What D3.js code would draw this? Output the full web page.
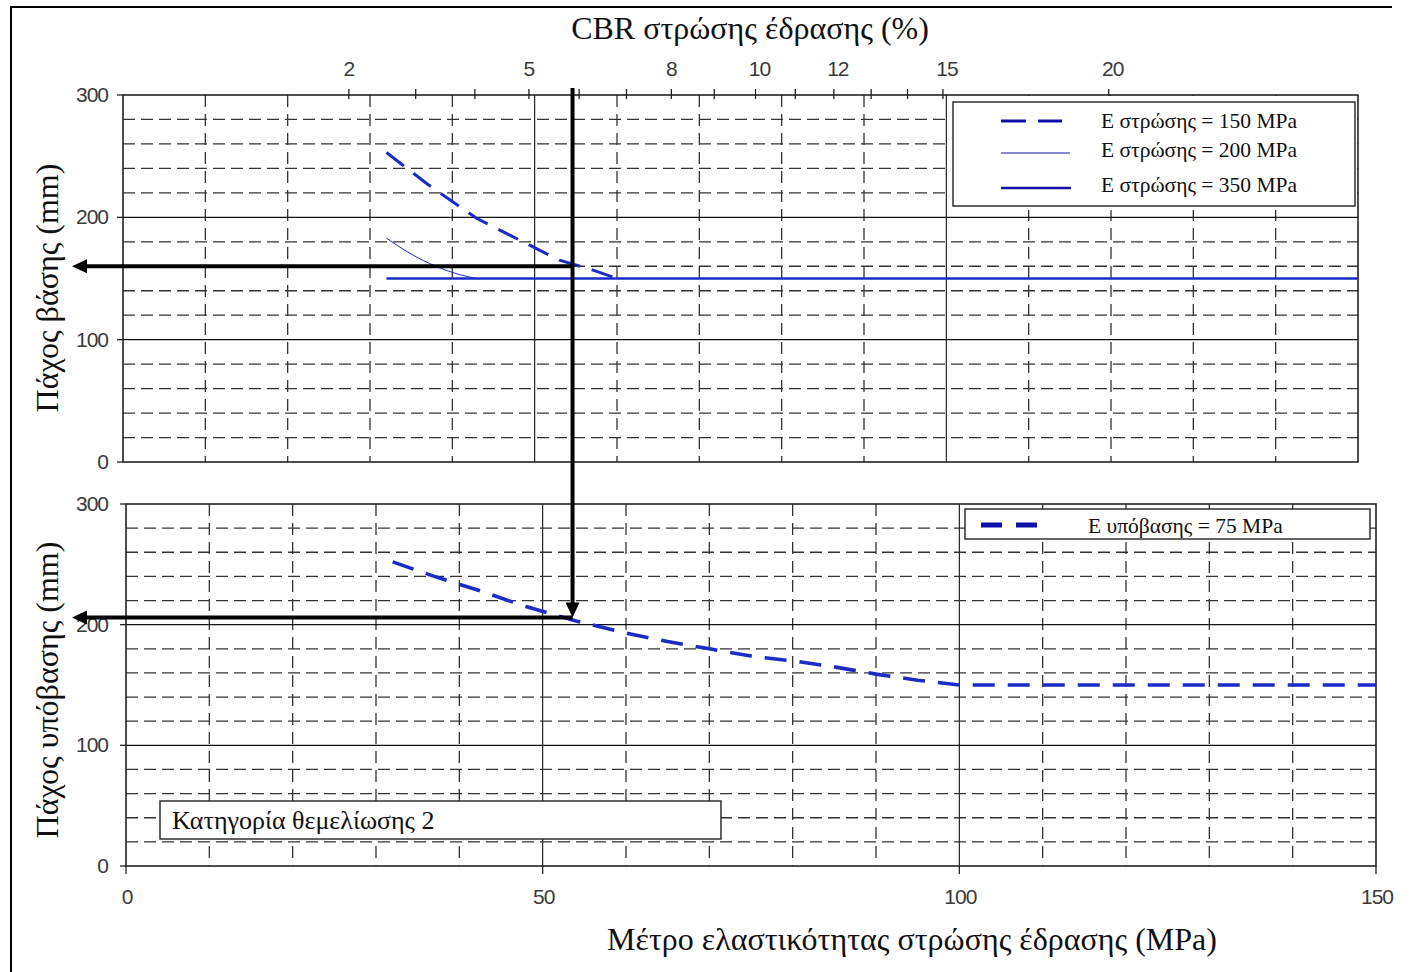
<!DOCTYPE html>
<html lang="el">
<head>
<meta charset="utf-8">
<title>Πάχος βάσης / υπόβασης</title>
<script src="https://cdn.jsdelivr.net/npm/d3@7"></script>
<style>
  body { margin: 0; background: #fff; }
  svg { display: block; }
  .tick-lbl { font-family: "Liberation Sans Narrow", "Liberation Sans", Arial, sans-serif; font-size: 21px; fill: #3a3a3a; letter-spacing: -1px; }
  .serif { font-family: "Liberation Serif", "Times New Roman", serif; fill: #111; }
</style>
</head>
<body>
<script>
// ---- data ----
// upper panel: base thickness (mm) vs subgrade modulus (MPa)
var base150E = [32, 37, 43, 48, 53, 57, 60];
var base150T = [253, 227, 199, 182, 165, 157, 150];
var base200E = [32, 35, 38, 41, 43];
var base200T = [183, 170, 160, 153, 150];
var base350E = [32, 150];
var base350T = [150, 150];

// lower panel: subbase thickness (mm), E subbase = 75 MPa
var subE = [32, 37, 42.5, 48, 54, 60, 65, 70, 75, 81, 85, 90, 95, 100, 150];
var subT = [252, 240, 228, 215, 203, 193, 186, 180, 174, 169, 165, 159, 154, 150, 150];

// CBR top axis (E = 17.6 * CBR^0.64)
var cbrTicks = [2, 3, 4, 5, 6, 7, 8, 9, 10, 11, 12, 13, 14, 15, 20];
var cbrLabels = [2, 5, 8, 10, 12, 15, 20];

var yTickLabels = [0, 100, 200, 300];
var xTickLabels = [0, 50, 100, 150];

var legendTop = ["Ε στρώσης = 150 MPa", "Ε στρώσης = 200 MPa", "Ε στρώσης = 350 MPa"];
var legendBot = ["Ε υπόβασης = 75 MPa"];

// reading shown by the arrows
var readE = 54.6, readBase = 160, readSub = 206;

var w = 1428, h = 972;
var blue = "#1b2bc6";

var svg = d3.select("body").append("svg")
  .attr("width", w).attr("height", h);

// outer frame
svg.append("path")
  .attr("d", "M11,972 L11,7 L1392,7")
  .attr("fill", "none").attr("stroke", "#000").attr("stroke-width", 2);

// scales
var xTop = d3.scaleLinear().domain([0, 150]).range([123, 1358]);
var yTop = d3.scaleLinear().domain([0, 300]).range([462, 95]);
var xBot = d3.scaleLinear().domain([0, 150]).range([126, 1376]);
var yBot = d3.scaleLinear().domain([0, 300]).range([866, 504]);

var cbrToE = function(c) { return 17.6 * Math.pow(c, 0.64); };

var drawGrid = function(g, x, y) {
  var xs = d3.range(10, 150, 10), ys = d3.range(20, 300, 20);
  g.selectAll(".vx").data(xs).enter().append("line")
    .attr("x1", function(d) { return x(d); }).attr("x2", function(d) { return x(d); })
    .attr("y1", y(300)).attr("y2", y(0))
    .attr("stroke", function(d) { return d % 50 ? "#333" : "#111"; })
    .attr("stroke-width", function(d) { return d % 50 ? 1.3 : 1.1; })
    .attr("stroke-dasharray", function(d) { return d % 50 ? "12,7" : null; });
  g.selectAll(".hy").data(ys).enter().append("line")
    .attr("x1", x(0)).attr("x2", x(150))
    .attr("y1", function(d) { return y(d); }).attr("y2", function(d) { return y(d); })
    .attr("stroke", function(d) { return d % 100 ? "#333" : "#111"; })
    .attr("stroke-width", function(d) { return d % 100 ? 1.3 : 1.1; })
    .attr("stroke-dasharray", function(d) { return d % 100 ? "12,6" : null; });
  g.append("rect")
    .attr("x", x(0)).attr("y", y(300))
    .attr("width", x(150) - x(0)).attr("height", y(0) - y(300))
    .attr("fill", "none").attr("stroke", "#222").attr("stroke-width", 1.6);
  // y ticks + labels
  g.selectAll(".yt").data(yTickLabels).enter().append("line")
    .attr("x1", x(0) - 6).attr("x2", x(0))
    .attr("y1", function(d) { return y(d); }).attr("y2", function(d) { return y(d); })
    .attr("stroke", "#222").attr("stroke-width", 1.3);
  g.selectAll(".yl").data(yTickLabels).enter().append("text")
    .attr("class", "tick-lbl")
    .attr("x", 108).attr("y", function(d) { return y(d) + 7; })
    .attr("text-anchor", "end")
    .text(function(d) { return d; });
};

var line = function(x, y) {
  return d3.line().x(function(d) { return x(d[0]); }).y(function(d) { return y(d[1]); });
};

// ---- upper panel ----
var gTop = svg.append("g");
drawGrid(gTop, xTop, yTop);

// CBR axis on top
gTop.selectAll(".ct").data(cbrTicks).enter().append("line")
  .attr("x1", function(d) { return xTop(cbrToE(d)); })
  .attr("x2", function(d) { return xTop(cbrToE(d)); })
  .attr("y1", yTop(300) - 6).attr("y2", yTop(300) + 4)
  .attr("stroke", "#222").attr("stroke-width", 1.3);
// labels sit a little right of their ticks in the original for two-digit values
gTop.selectAll(".cl").data(cbrLabels).enter().append("text")
  .attr("class", "tick-lbl")
  .attr("x", function(d) { return xTop(cbrToE(d)) + (d >= 10 ? 4 : 0); })
  .attr("y", 76)
  .attr("text-anchor", "middle")
  .text(function(d) { return d; });

var lineTop = line(xTop, yTop);
gTop.append("path").datum(d3.zip(base150E, base150T))
  .attr("d", lineTop).attr("fill", "none").attr("stroke", blue)
  .attr("stroke-width", 3).attr("stroke-dasharray", "22,12");
gTop.append("path").datum(d3.zip(base200E, base200T))
  .attr("d", line(xTop, yTop).curve(d3.curveMonotoneX)).attr("fill", "none").attr("stroke", blue)
  .attr("stroke-width", 1);
gTop.append("path").datum(d3.zip(base350E, base350T))
  .attr("d", line(xTop, yTop)).attr("fill", "none").attr("stroke", blue)
  .attr("stroke-width", 2.6);

// legend (upper)
gTop.append("rect").attr("x", 949).attr("y", 96).attr("width", 408).attr("height", 114)
  .attr("fill", "#fff");
gTop.append("rect").attr("x", 953).attr("y", 102).attr("width", 402).attr("height", 104)
  .attr("fill", "#fff").attr("stroke", "#222").attr("stroke-width", 1.4);
var legY = [121, 153, 188], legBaseline = [128, 157, 192];
var legStyle = [
  { width: 3, dash: "25,12", x2: 1062 },
  { width: 1, dash: null, x2: 1070 },
  { width: 2.6, dash: null, x2: 1071 }
];
legendTop.forEach(function(t, i) {
  gTop.append("line").attr("x1", 1001).attr("x2", legStyle[i].x2)
    .attr("y1", legY[i]).attr("y2", legY[i])
    .attr("stroke", "#1010a8").attr("stroke-width", legStyle[i].width)
    .attr("stroke-dasharray", legStyle[i].dash);
  gTop.append("text").attr("class", "serif")
    .attr("x", 1101).attr("y", legBaseline[i])
    .attr("font-size", 21.5).text(t);
});

// ---- lower panel ----
var gBot = svg.append("g");
drawGrid(gBot, xBot, yBot);

gBot.selectAll(".xt").data(xTickLabels).enter().append("line")
  .attr("x1", function(d) { return xBot(d); }).attr("x2", function(d) { return xBot(d); })
  .attr("y1", yBot(0)).attr("y2", yBot(0) + 8)
  .attr("stroke", "#222").attr("stroke-width", 1.3);
gBot.selectAll(".xl").data(xTickLabels).enter().append("text")
  .attr("class", "tick-lbl")
  .attr("x", function(d) { return xBot(d) + 1; }).attr("y", 904)
  .attr("text-anchor", "middle")
  .text(function(d) { return d; });

gBot.append("path").datum(d3.zip(subE, subT))
  .attr("d", line(xBot, yBot)).attr("fill", "none").attr("stroke", blue)
  .attr("stroke-width", 3.6).attr("stroke-dasharray", "22,13");

// legend (lower)
gBot.append("rect").attr("x", 965).attr("y", 509).attr("width", 405).attr("height", 30)
  .attr("fill", "#fff").attr("stroke", "#222").attr("stroke-width", 1.4);
gBot.append("line").attr("x1", 981).attr("x2", 1042).attr("y1", 525).attr("y2", 525)
  .attr("stroke", "#1010a8").attr("stroke-width", 5).attr("stroke-dasharray", "21,14");
gBot.append("text").attr("class", "serif")
  .attr("x", 1088).attr("y", 533).attr("font-size", 21.5).text(legendBot[0]);

// category box
gBot.append("rect").attr("x", 160).attr("y", 801).attr("width", 561).attr("height", 38)
  .attr("fill", "#fff").attr("stroke", "#222").attr("stroke-width", 1.4);
gBot.append("text").attr("class", "serif")
  .attr("x", 172).attr("y", 829).attr("font-size", 26)
  .text("Κατηγορία θεμελίωσης 2");

// ---- arrows ----
var ax = xTop(readE);
var arrows = svg.append("g").attr("fill", "#000");
arrows.append("line").attr("x1", ax).attr("x2", ax)
  .attr("y1", yTop(300) - 7).attr("y2", yBot(readSub) - 12)
  .attr("stroke", "#000").attr("stroke-width", 4);
arrows.append("path")
  .attr("d", "M" + (ax - 7) + "," + (yBot(readSub) - 15) + " L" + (ax + 7) + "," + (yBot(readSub) - 15) +
    " L" + ax + "," + yBot(readSub) + "Z");
[yTop(readBase), yBot(readSub)].forEach(function(yy) {
  var tip = 72;
  arrows.append("line").attr("x1", ax).attr("x2", tip + 12)
    .attr("y1", yy).attr("y2", yy)
    .attr("stroke", "#000").attr("stroke-width", 4);
  arrows.append("path")
    .attr("d", "M" + tip + "," + yy + " L" + (tip + 15) + "," + (yy - 7) + " L" + (tip + 15) + "," + (yy + 7) + "Z");
});

// ---- titles ----
svg.append("text").attr("class", "serif")
  .attr("x", 750).attr("y", 39).attr("text-anchor", "middle")
  .attr("font-size", 32).text("CBR στρώσης έδρασης (%)");
svg.append("text").attr("class", "serif")
  .attr("x", 912).attr("y", 950).attr("text-anchor", "middle")
  .attr("font-size", 32).text("Μέτρο ελαστικότητας στρώσης έδρασης (MPa)");
svg.append("text").attr("class", "serif")
  .attr("transform", "translate(58,288) rotate(-90)")
  .attr("text-anchor", "middle").attr("font-size", 32)
  .text("Πάχος βάσης (mm)");
svg.append("text").attr("class", "serif")
  .attr("transform", "translate(58,690) rotate(-90)")
  .attr("text-anchor", "middle").attr("font-size", 32)
  .text("Πάχος υπόβασης (mm)");
</script>
</body>
</html>
